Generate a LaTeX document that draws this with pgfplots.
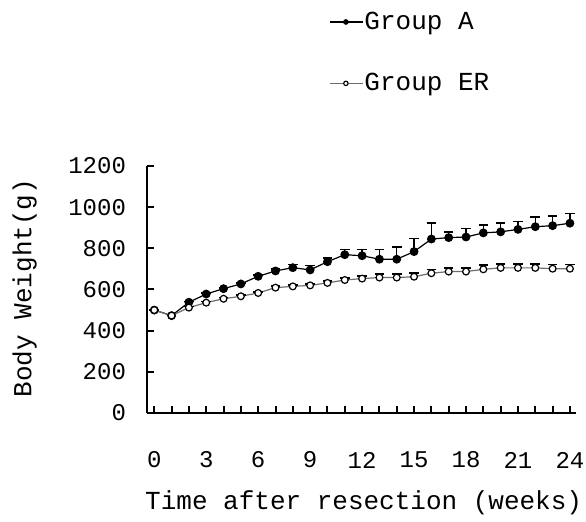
\documentclass[border=0pt]{standalone}
\usepackage{pgfplots}
\pgfplotsset{compat=1.18}
\usepackage{pgfplotstable}
\usepackage{fontspec}
\setmainfont{Liberation Mono}
\pgfplotstableread{
x y ey
0 500 0
1 473 0
2 538 4
3 578 4
4 604 5
5 627 5
6 664 6
7 690 9
8 706 16
9 695 22
10 735 18
11 769 26
12 764 31
13 747 47
14 747 58
15 784 63
16 845 77
17 852 26
18 855 42
19 875 38
20 880 42
21 892 39
22 905 46
23 910 46
24 922 48
}\groupA
\pgfplotstableread{
x y ey
0 500 0
1 473 0
2 512 6
3 536 6
4 555 6
5 567 6
6 583 6
7 609 7
8 615 7
9 620 8
10 632 8
11 646 10
12 653 12
13 658 16
14 658 16
15 662 17
16 679 18
17 687 18
18 687 18
19 698 20
20 705 20
21 705 20
22 705 20
23 701 20
24 701 20
}\groupER
\begin{document}
\begin{tikzpicture}
\begin{axis}[
  at={(0,0)}, anchor=south west,
  scale only axis, width=214.5pt, height=123.5pt,
  xmin=-0.42, xmax=24.35, ymin=0, ymax=1200,
  axis lines=left, axis line style={-, line width=1pt},
  tick align=inside, major tick length=3.5pt, minor tick length=3.5pt,
  every tick/.style={black, line width=1pt},
  xtick={0,3,...,24}, minor x tick num=2,
  ytick={0,200,...,1200},
  /pgf/number format/assume math mode=true,
  /pgf/number format/1000 sep={},
  tick label style={font=\fontsize{12}{14}\selectfont},
  yticklabel style={anchor=east, xshift=-7pt},
  xticklabel style={anchor=center, yshift=-23.5pt},
  xlabel={Time after resection (weeks)},
  ylabel={Body Weight(g)},
  every axis x label/.style={at={(axis description cs:0.505,0)}, anchor=center, yshift=-45pt, font=\fontsize{13}{15}\selectfont},
  every axis y label/.style={at={(axis description cs:-0.285,0.506)}, rotate=90, anchor=center, font=\fontsize{13}{15}\selectfont},
  legend style={draw=none, fill=none, at={(axis description cs:0.424,1.630)}, anchor=north west,
    font=\fontsize{13}{15}\selectfont, row sep=19.5pt, inner sep=0pt, nodes={inner sep=0.5pt}},
  legend cell align=left,
  legend image code/.code={\draw[mark repeat=2, mark phase=2, #1, mark size=1.1pt] plot coordinates {(0pt,0pt) (8pt,0pt) (16.5pt,0pt)};},
]
\addplot[black, line width=0.6pt, mark=*, mark size=1.9pt,
  error bars/.cd, y dir=plus, y explicit,
  error bar style={line width=0.7pt, black},
  error mark options={rotate=90, mark size=2.4pt, line width=0.8pt, black}]
  table[x=x, y=y, y error=ey] {\groupA};
\addlegendentry{Group A}
\addplot[color={rgb,255:red,110;green,110;blue,110}, line width=0.6pt, mark=*, mark size=1.7pt,
  mark options={draw=black, fill=white, line width=0.6pt},
  error bars/.cd, y dir=plus, y explicit,
  error bar style={line width=0.7pt, black},
  error mark options={rotate=90, mark size=2.4pt, line width=0.8pt, black}]
  table[x=x, y=y, y error=ey] {\groupER};
\addlegendentry{Group ER}
\end{axis}
\pgfresetboundingbox
\useasboundingbox (-73.5pt,-54.5pt) rectangle (219.5pt,206.5pt);
\end{tikzpicture}
\end{document}
